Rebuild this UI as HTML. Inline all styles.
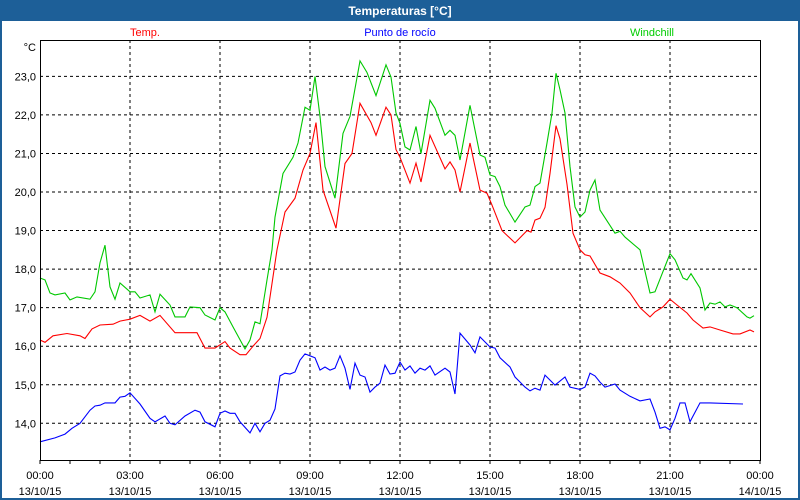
<!DOCTYPE html>
<html><head><meta charset="utf-8"><style>
html,body{margin:0;padding:0;width:800px;height:500px;overflow:hidden;background:#fff;font-family:"Liberation Sans","DejaVu Sans",sans-serif}
</style></head><body>
<svg id="c" width="800" height="500" xmlns="http://www.w3.org/2000/svg">
<rect x="0" y="0" width="800" height="500" fill="#fff"/>
<rect x="0" y="0" width="800" height="21" fill="#1d5f98"/>
<rect x="0" y="0" width="2" height="500" fill="#1d5f98"/>
<rect x="798" y="0" width="2" height="500" fill="#1d5f98"/>
<rect x="0" y="498" width="800" height="2" fill="#1d5f98"/>
<text x="400" y="15" fill="#fff" font-size="12" font-weight="bold" text-anchor="middle">Temperaturas [°C]</text>
<text x="145" y="36" fill="#ff0000" font-size="11" text-anchor="middle">Temp.</text>
<text x="400" y="36" fill="#0000ff" font-size="11" text-anchor="middle">Punto de rocío</text>
<text x="652" y="36" fill="#00cc00" font-size="11" text-anchor="middle">Windchill</text>
<text x="36" y="51" fill="#000" font-size="11" text-anchor="end">°C</text>
<g id="grid"></g><g id="series"></g><g id="axes"></g>
</svg>
<script>
const yTicks=[14,15,16,17,18,19,20,21,22,23];
const xTickLabels=["00:00","03:00","06:00","09:00","12:00","15:00","18:00","21:00","00:00"];
const xTickDates=["13/10/15","13/10/15","13/10/15","13/10/15","13/10/15","13/10/15","13/10/15","13/10/15","14/10/15"];
const tempMin=[0,10,26,54,80,90,104,120,146,160,180,200,220,240,270,314,330,350,370,380,400,412,426,440,454,474,490,510,526,540,552,566,592,610,624,640,662,672,692,702,712,720,740,752,762,780,810,820,830,840,860,880,894,904,924,950,974,982,990,1000,1010,1020,1032,1040,1054,1066,1080,1090,1100,1120,1140,1160,1180,1200,1220,1230,1246,1260,1274,1294,1306,1326,1340,1360,1386,1400,1420,1428];
const tempVal=[16.16,16.1,16.27,16.33,16.27,16.2,16.45,16.55,16.57,16.65,16.7,16.8,16.65,16.8,16.35,16.35,15.95,15.95,16.12,15.95,15.78,15.78,16.0,16.2,16.75,18.5,19.48,19.84,20.57,21.0,21.8,20.05,19.06,20.74,21.0,22.3,21.8,21.47,22.2,22.0,21.1,20.9,20.23,20.75,20.26,21.47,20.6,20.78,20.57,20.0,21.27,20.05,19.97,19.66,19.0,18.68,19.0,18.96,19.27,19.32,19.6,20.48,21.72,21.38,20.2,18.93,18.5,18.37,18.34,17.9,17.8,17.64,17.38,17.0,16.76,16.89,17.02,17.22,17.07,16.86,16.68,16.47,16.5,16.42,16.32,16.32,16.42,16.37];
const windMin=[0,10,20,30,50,60,74,100,110,120,130,140,150,160,180,190,200,220,230,240,260,270,290,300,320,330,350,360,370,386,410,420,430,440,454,464,470,486,506,516,530,540,550,560,570,590,606,620,640,654,672,692,702,712,720,730,740,752,762,780,790,810,820,830,840,860,880,890,900,910,920,930,950,970,980,990,1000,1014,1024,1032,1040,1050,1060,1070,1080,1090,1100,1110,1120,1150,1160,1170,1200,1220,1230,1260,1270,1286,1294,1302,1320,1330,1340,1350,1360,1370,1380,1394,1414,1420,1428];
const windVal=[17.77,17.72,17.38,17.33,17.38,17.2,17.28,17.22,17.41,18.16,18.62,17.54,17.22,17.64,17.41,17.41,17.25,17.33,16.89,17.35,17.07,16.76,16.76,17.02,17.0,16.81,16.68,17.0,16.89,16.5,15.93,16.16,16.63,16.58,17.72,18.5,19.35,20.48,20.9,21.27,22.2,22.12,23.0,21.96,20.66,19.84,21.52,21.96,23.4,23.1,22.5,23.3,22.98,22.05,21.78,21.17,21.09,21.7,21.0,22.38,22.17,21.47,21.6,21.47,20.83,22.25,20.96,20.9,20.44,20.4,20.14,19.66,19.22,19.61,19.66,20.14,20.23,21.27,22.05,23.08,22.65,22.05,20.66,19.61,19.35,19.48,20.05,20.31,19.53,18.93,18.98,18.83,18.5,17.38,17.41,18.4,18.24,17.77,17.72,17.88,17.51,16.94,17.12,17.09,17.15,17.02,17.07,17.0,16.76,16.73,16.79];
const dewMin=[0,30,50,64,80,100,110,120,130,150,160,170,180,200,220,230,250,260,270,290,310,320,330,350,360,370,380,390,400,420,430,440,450,460,470,480,490,500,510,520,530,540,550,560,570,580,590,600,610,620,630,640,650,660,670,680,690,700,710,720,730,740,750,760,770,780,790,810,820,830,840,860,870,880,900,910,920,940,950,970,980,990,1000,1010,1030,1050,1060,1080,1090,1100,1110,1120,1130,1150,1160,1180,1200,1220,1230,1240,1250,1260,1270,1280,1290,1300,1320,1340,1406,1426];
const dewVal=[13.52,13.62,13.72,13.87,14.0,14.34,14.45,14.47,14.53,14.53,14.68,14.7,14.79,14.5,14.13,14.04,14.19,14.0,13.96,14.19,14.34,14.29,14.04,13.91,14.26,14.32,14.26,14.26,14.04,13.75,14.0,13.78,14.0,14.08,14.37,15.23,15.3,15.28,15.33,15.64,15.8,15.75,15.7,15.38,15.46,15.38,15.43,15.75,15.43,14.88,15.56,15.25,15.2,14.81,14.94,15.04,15.51,15.28,15.3,15.59,15.38,15.49,15.3,15.43,15.38,15.49,15.25,15.43,15.33,14.76,16.34,16.03,15.83,16.24,15.98,15.95,15.7,15.46,15.2,14.94,14.84,14.91,14.86,15.25,14.99,15.2,14.94,14.88,14.94,15.3,15.23,15.07,14.94,15.02,14.86,14.7,14.58,14.63,14.29,13.87,13.91,13.83,14.13,14.53,14.53,14.04,14.53,14.53,14.5];

const L=40,R=760,T=40,B=460;
const xs=m=>L+(m/1440)*(R-L);
const ys=v=>423.3-(v-14)*38.55;
const NS="http://www.w3.org/2000/svg";
function mk(tag,attrs,parent){const e=document.createElementNS(NS,tag);for(const k in attrs)e.setAttribute(k,attrs[k]);parent.appendChild(e);return e;}
const grid=document.getElementById('grid'),series=document.getElementById('series'),axes=document.getElementById('axes');
yTicks.forEach(v=>{
  const g=mk('line',{x1:L,x2:R,y1:ys(v),y2:ys(v),stroke:'#000','stroke-dasharray':'3,3','stroke-width':1},grid);
  
  
  const t=mk('text',{x:36,y:ys(v)+4,'font-size':11,'text-anchor':'end',fill:'#000'},axes);
  t.textContent=v.toFixed(1).replace('.',',');
  
  
});
xTickLabels.forEach((lab,i)=>{
  const x=xs(i*180);
  if(i>0&&i<8){const g=mk('line',{x1:x,x2:x,y1:T,y2:B,stroke:'#000','stroke-dasharray':'3,3','stroke-width':1},grid);
  
  }
  const t=mk('text',{x:x,y:479,'font-size':11,'text-anchor':'middle',fill:'#000'},axes);
  t.textContent=lab;
  
  
  const d=mk('text',{x:x,y:495,'font-size':11,'text-anchor':'middle',fill:'#000'},axes);
  d.textContent=xTickDates[i];
  
  
});
for(let h=0;h<=24;h++){const x=xs(h*60);const tk=mk('line',{x1:x,x2:x,y1:B,y2:B+4,stroke:'#000'},axes);
  
  }
const box=mk('rect',{x:L+0.5,y:T+0.5,width:R-L,height:B-T,fill:'none',stroke:'#000','stroke-width':1},axes);


function line(mins,vals,color,name){
  const p=mk('polyline',{points:mins.map((m,i)=>xs(m).toFixed(1)+','+ys(vals[i]).toFixed(1)).join(' '),fill:'none',stroke:color,'stroke-width':1.1},series);
  
  
}
line(dewMin,dewVal,'#0000ff','dew-point-line');
line(windMin,windVal,'#00c800','windchill-line');
line(tempMin,tempVal,'#ff0000','temp-line');
</script>
</body></html>
